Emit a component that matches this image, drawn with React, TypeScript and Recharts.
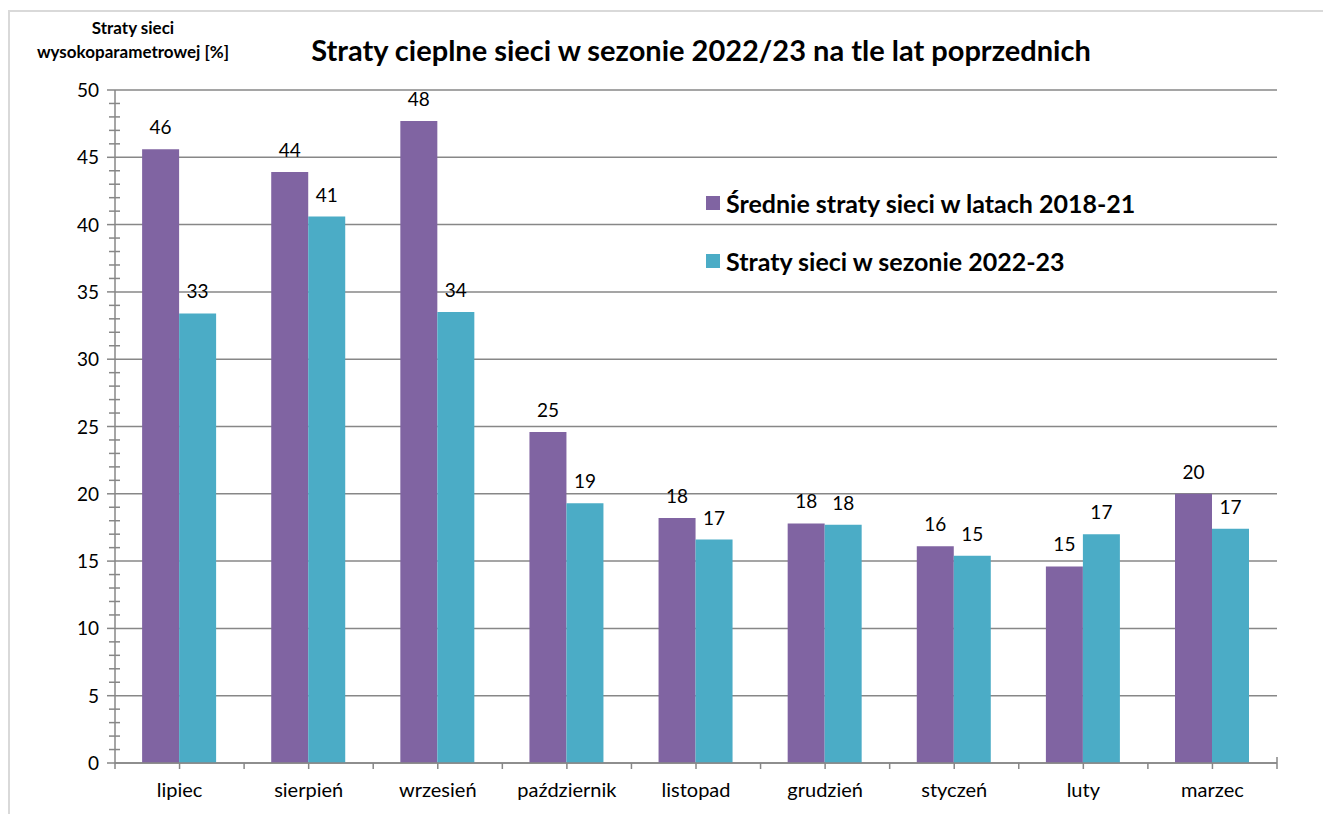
import { BarChart, Bar, XAxis, YAxis, CartesianGrid, LabelList } from 'recharts'

const months = ['lipiec', 'sierpień', 'wrzesień', 'październik', 'listopad', 'grudzień', 'styczeń', 'luty', 'marzec']
const avg2018to21 = [45.6, 43.9, 47.7, 24.6, 18.2, 17.8, 16.1, 14.6, 20.0]
const season2022to23 = [33.4, 40.6, 33.5, 19.3, 16.6, 17.7, 15.4, 17.0, 17.4]
const majorTicks = [0, 5, 10, 15, 20, 25, 30, 35, 40, 45, 50]
const allTicks = [
  0, 1, 2, 3, 4, 5, 6, 7, 8, 9, 10, 11, 12, 13, 14, 15, 16, 17, 18, 19, 20, 21, 22, 23, 24, 25,
  26, 27, 28, 29, 30, 31, 32, 33, 34, 35, 36, 37, 38, 39, 40, 41, 42, 43, 44, 45, 46, 47, 48, 49, 50
]
const seriesNames = ['Średnie straty sieci w latach 2018-21', 'Straty sieci w sezonie 2022-23']
const colors = ['#8064A2', '#4BACC6']

const data = months.map((m, i) => ({ month: m, avg: avg2018to21[i], season: season2022to23[i] }))

const FONT = 'Lato, "Open Sans", sans-serif'
const AXIS = '#878787'
const PLOT_W = 1162
const BAND = PLOT_W / months.length

const YTick = (props: any) => {
  const { x, y, payload } = props
  const v = payload.value
  if (v % 5 === 0) {
    return (
      <g>
        <line x1={x - 8} x2={x} y1={y} y2={y} stroke={AXIS} strokeWidth={1.5} />
        <text x={x - 16} y={y + 7} textAnchor="end" fontSize={19} fontFamily={FONT} fill="#000">
          {v}
        </text>
      </g>
    )
  }
  return <line x1={x - 6} x2={x + 5} y1={y} y2={y} stroke={AXIS} strokeWidth={1.5} />
}

const XTick = (props: any) => {
  const { x, y, payload, index } = props
  return (
    <g>
      <line x1={x} x2={x} y1={y} y2={y + 6} stroke={AXIS} strokeWidth={1.5} />
      <line x1={x - BAND / 2} x2={x - BAND / 2} y1={y} y2={y + 6} stroke={AXIS} strokeWidth={1.5} />
      {index === months.length - 1 && (
        <line x1={x + BAND / 2} x2={x + BAND / 2} y1={y - 6} y2={y + 6} stroke={AXIS} strokeWidth={1.5} />
      )}
      <text x={x} y={y + 34} textAnchor="middle" fontSize={20} fontFamily={FONT} fill="#000">
        {payload.value}
      </text>
    </g>
  )
}

export default function App() {
  return (
    <div style={{ position: 'relative', width: 1323, height: 806, fontFamily: FONT }}>
      <div
        style={{
          position: 'absolute',
          left: 0,
          top: 2,
          width: 1323,
          height: 804,
          borderTop: '2px solid #d9d9d9',
          borderLeft: '2px solid #d9d9d9'
        }}
      />
      <div
        style={{
          position: 'absolute',
          left: 25,
          top: 8,
          width: 200,
          textAlign: 'center',
          fontSize: 17,
          fontWeight: 700,
          lineHeight: '24px'
        }}
      >
        Straty sieci
        <br />
        wysokoparametrowej [%]
      </div>
      <div
        style={{
          position: 'absolute',
          left: 0,
          top: 24,
          width: 1386,
          textAlign: 'center',
          fontSize: 29,
          fontWeight: 700,
          lineHeight: '36px'
        }}
      >
        Straty cieplne sieci w sezonie 2022/23 na tle lat poprzednich
      </div>
      <div style={{ position: 'absolute', left: 698, top: 180, zIndex: 2 }}>
        {seriesNames.map((n, i) => (
          <div key={n} style={{ display: 'flex', alignItems: 'center', height: 30, marginBottom: 28 }}>
            <div style={{ width: 14, height: 14, background: colors[i], marginRight: 6 }} />
            <span style={{ fontSize: 25, fontWeight: 700 }}>{n}</span>
          </div>
        ))}
      </div>
      <BarChart
        width={1323}
        height={806}
        data={data}
        margin={{ top: 82, right: 54, left: 0, bottom: 0 }}
        barCategoryGap="21%"
        barGap={0}
        style={{ position: 'absolute', left: 0, top: 0 }}
      >
        <CartesianGrid vertical={false} horizontalValues={majorTicks} stroke={AXIS} strokeWidth={1.5} />
        <XAxis
          dataKey="month"
          height={51}
          stroke={AXIS}
          strokeWidth={1.5}
          tickLine={false}
          tickSize={0}
          tickMargin={0}
          interval={0}
          tick={XTick}
        />
        <YAxis
          width={107}
          domain={[0, 50]}
          ticks={allTicks}
          interval={0}
          stroke={AXIS}
          strokeWidth={1.5}
          tickLine={false}
          tickSize={0}
          tickMargin={0}
          tick={YTick}
        />
        <Bar dataKey="avg" name={seriesNames[0]} fill={colors[0]} isAnimationActive={false}>
          <LabelList
            dataKey="avg"
            position="top"
            offset={15}
            formatter={(v: any) => Math.round(v)}
            style={{ fontSize: 19, fontFamily: FONT, fill: '#000' }}
          />
        </Bar>
        <Bar dataKey="season" name={seriesNames[1]} fill={colors[1]} isAnimationActive={false}>
          <LabelList
            dataKey="season"
            position="top"
            offset={15}
            formatter={(v: any) => Math.round(v)}
            style={{ fontSize: 19, fontFamily: FONT, fill: '#000' }}
          />
        </Bar>
      </BarChart>
    </div>
  )
}
